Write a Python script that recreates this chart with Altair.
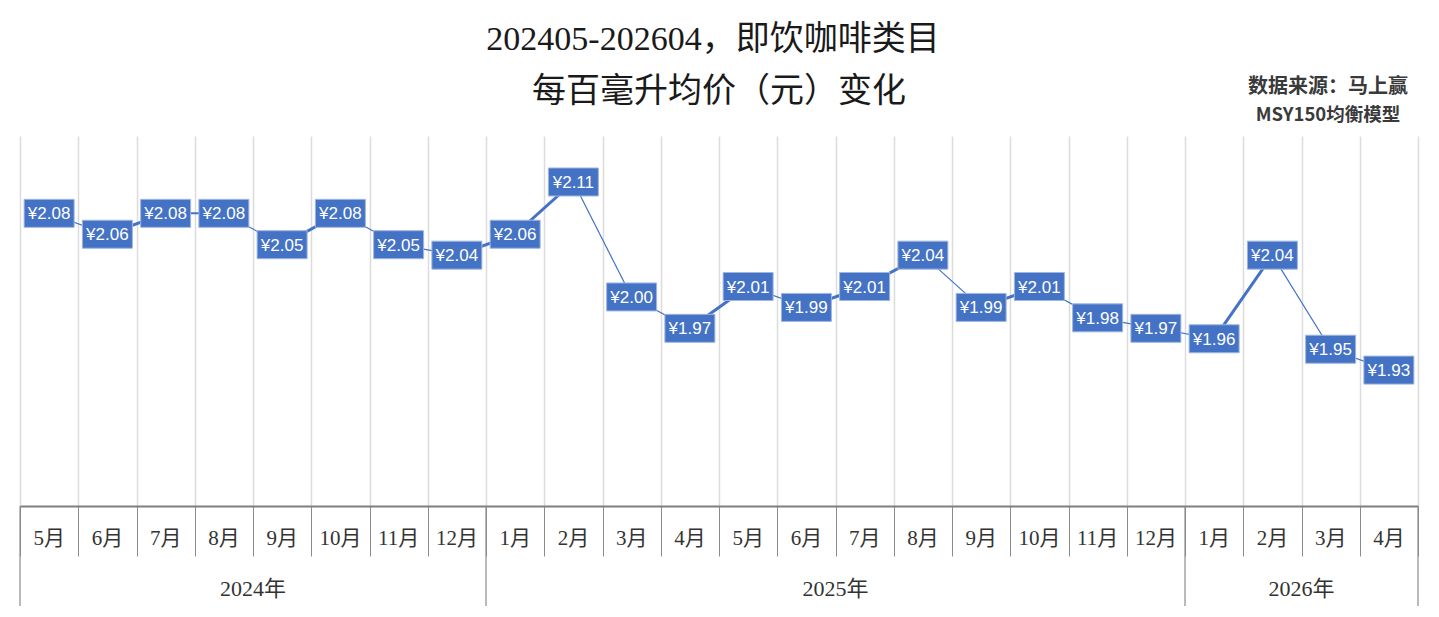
import altair as alt
import pandas as pd

keys = ["2024-05", "2024-06", "2024-07", "2024-08", "2024-09", "2024-10", "2024-11", "2024-12",
        "2025-01", "2025-02", "2025-03", "2025-04", "2025-05", "2025-06", "2025-07", "2025-08",
        "2025-09", "2025-10", "2025-11", "2025-12", "2026-01", "2026-02", "2026-03", "2026-04"]
months = ["5月", "6月", "7月", "8月", "9月", "10月", "11月", "12月",
          "1月", "2月", "3月", "4月", "5月", "6月", "7月", "8月", "9月", "10月", "11月", "12月",
          "1月", "2月", "3月", "4月"]
values = [2.08, 2.06, 2.08, 2.08, 2.05, 2.08, 2.05, 2.04,
          2.06, 2.11, 2.00, 1.97, 2.01, 1.99, 2.01, 2.04, 1.99, 2.01, 1.98, 1.97,
          1.96, 2.04, 1.95, 1.93]
years = ["2024年", "2025年", "2026年"]
year_center_keys = ["2024-09", "2025-07", "2026-03"]
year_start_keys = ["2024-05", "2025-01", "2026-01"]
year_end_key = ["2026-04"]

title1 = "202405-202604，即饮咖啡类目"
title2 = "每百毫升均价（元）变化"
note1 = "数据来源：马上赢"
note2 = "MSY150均衡模型"

BLUE = "#4472C4"
SERIF = "Liberation Serif, Noto Sans CJK SC"
CJK = "Noto Sans CJK SC"

df = pd.DataFrame({"key": keys, "month": months, "v": values})
df["label"] = ["¥" + format(v, ".2f") for v in values]

seg_rows = []
for i in range(len(keys) - 1):
    d = values[i + 1] - values[i]
    w = 3.0 if d > 0 else (2.0 if d == 0 else 1.2)
    seg_rows.append({"seg": i, "key": keys[i], "v": values[i], "w": w})
    seg_rows.append({"seg": i, "key": keys[i + 1], "v": values[i + 1], "w": w})
seg = pd.DataFrame(seg_rows)

xscale = alt.Scale(type="band", domain=keys, paddingInner=0, paddingOuter=0)
yscale = alt.Scale(domain=[1.8, 2.154], zero=False, nice=False)

xaxis = alt.Axis(labels=False, title=None, tickBand="extent", tickSize=50,
                 tickColor="#8c8c8c", tickWidth=1, domainColor="#7f7f7f", domainWidth=2,
                 grid=True, gridColor="#dcdcdc", gridWidth=1.5)

x_main = alt.X("key:N", sort=keys, scale=xscale, axis=xaxis)
y_main = alt.Y("v:Q", scale=yscale, axis=None)

lines = alt.Chart(seg).mark_line(color=BLUE).encode(
    x=x_main, y=y_main, detail="seg:N",
    strokeWidth=alt.StrokeWidth("w:Q", scale=None),
)

boxes = alt.Chart(df).mark_point(
    shape="M-1,-0.56L1,-0.56L1,0.56L-1,0.56Z", size=2500, filled=True,
    fill=BLUE, stroke="#9fb6e3", strokeWidth=1, opacity=1,
).encode(x=x_main, y=y_main)

labels = alt.Chart(df).mark_text(
    color="white", font="Liberation Sans", fontSize=17, baseline="middle", align="center", dy=1,
).encode(x=x_main, y=y_main, text="label:N")

month_text = alt.Chart(df).mark_text(
    color="#333333", font=SERIF, fontSize=21, baseline="middle", align="center",
).encode(x=x_main, y=alt.value(403), text="month:N")

ydf = pd.DataFrame({"key": year_center_keys, "year": years})
year_text = alt.Chart(ydf).mark_text(
    color="#333333", font=SERIF, fontSize=22, baseline="middle", align="center",
).encode(x=alt.X("key:N", sort=keys, scale=xscale, bandPosition=0, axis=xaxis),
         y=alt.value(453), text="year:N")

sdf = pd.DataFrame({"key": year_start_keys})
year_rules = alt.Chart(sdf).mark_rule(color="#8c8c8c", strokeWidth=1.2).encode(
    x=alt.X("key:N", sort=keys, scale=xscale, bandPosition=0, axis=xaxis),
    y=alt.value(370), y2=alt.value(470),
)
edf = pd.DataFrame({"key": year_end_key})
end_rule = alt.Chart(edf).mark_rule(color="#8c8c8c", strokeWidth=1.2).encode(
    x=alt.X("key:N", sort=keys, scale=xscale, bandPosition=1, axis=xaxis),
    y=alt.value(370), y2=alt.value(470),
)

tdf = pd.DataFrame({"t1": [title1], "t2": [title2], "n1": [note1], "n2": [note2]})
t1 = alt.Chart(tdf).mark_text(font=SERIF, fontSize=34, color="#1a1a1a", align="center",
                              baseline="middle").encode(x=alt.value(693), y=alt.value(-96), text="t1:N")
t2 = alt.Chart(tdf).mark_text(font=SERIF, fontSize=34, color="#1a1a1a", align="center",
                              baseline="middle").encode(x=alt.value(699), y=alt.value(-44), text="t2:N")
n1 = alt.Chart(tdf).mark_text(font=CJK, fontSize=20, fontWeight="bold", color="#3a3a3a", align="center",
                              baseline="middle").encode(x=alt.value(1308), y=alt.value(-49), text="n1:N")
n2 = alt.Chart(tdf).mark_text(font=CJK, fontSize=18.5, fontWeight="bold", color="#3a3a3a", align="center",
                              baseline="middle").encode(x=alt.value(1308), y=alt.value(-21), text="n2:N")

chart = alt.layer(
    lines, boxes, labels, month_text, year_text, year_rules, end_rule, t1, t2, n1, n2
).properties(
    width=1398, height=370,
    padding={"left": 12, "top": 128, "right": 13, "bottom": 103},
    autosize=alt.AutoSizeParams(type="none"),
    background="white",
).configure_view(stroke="transparent")

chart.save("out.html", embed_options={"renderer": "svg", "actions": False})
